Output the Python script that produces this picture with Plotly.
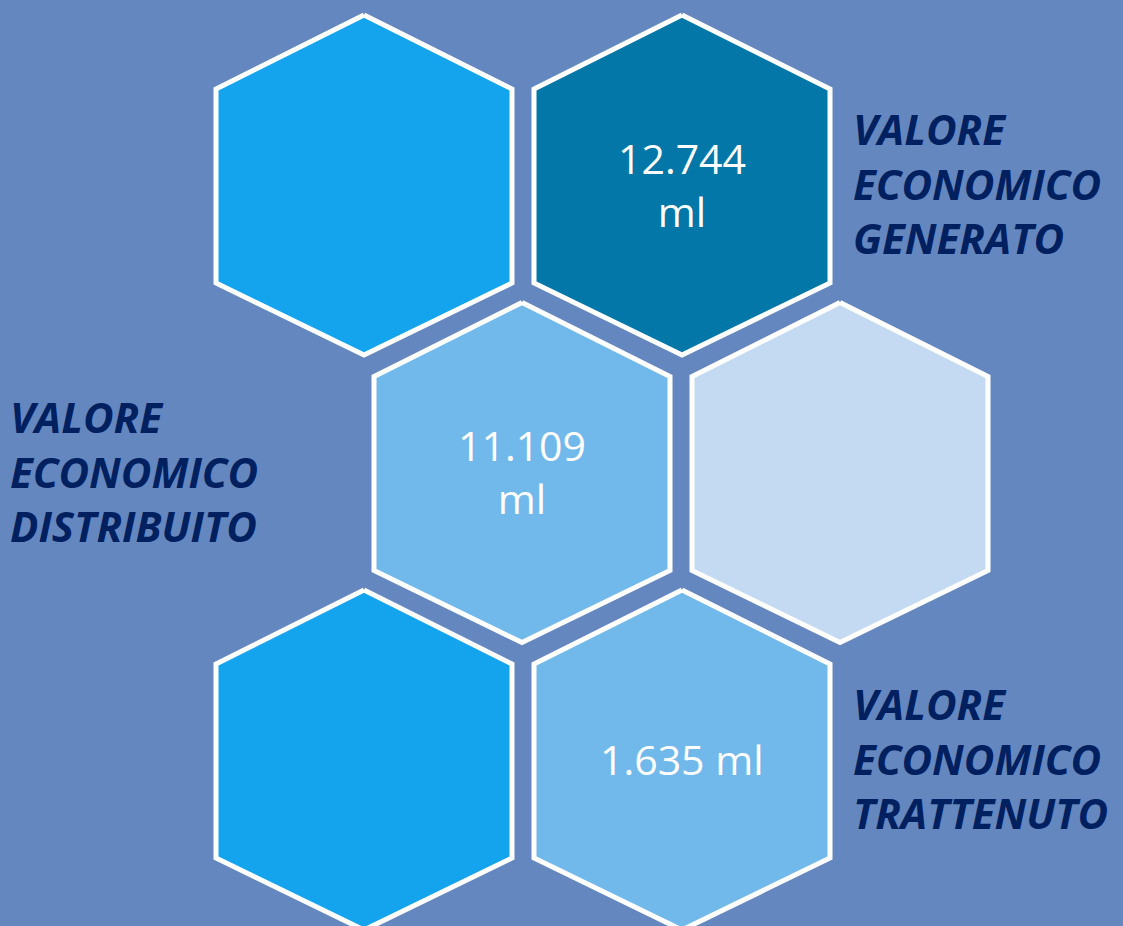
import plotly.graph_objects as go

# hexagon grid: row / column of each cell, value text inside it
hex_rows = [0, 0, 1, 1, 2, 2]
hex_cols = [0, 1, 0, 1, 0, 1]
hex_values = ["", "12.744<br>ml", "11.109<br>ml", "", "", "1.635 ml"]
hex_colors = ["#14A4EE", "#0277A8", "#72B9EB", "#C4DAF2", "#14A4EE", "#72B9EB"]

# side captions, one per row
label_rows = [0, 1, 2]
label_texts = [
    "VALORE<br>ECONOMICO<br>GENERATO",
    "VALORE<br>ECONOMICO<br>DISTRIBUITO",
    "VALORE<br>ECONOMICO<br>TRATTENUTO",
]
label_sides = ["right", "left", "right"]

BG = "#6587BF"
NAVY = "#002060"
W, H = 1123, 926


def hex_center(row, col):
    cx = 364 + col * 318 + (row % 2) * 158
    cy = 185 + row * 287.5
    return cx, cy


def hex_outline(cx, cy):
    # pointy-top hexagon, slightly flattened like the original slide
    xs = [cx, cx + 148, cx + 148, cx, cx - 148, cx - 148, cx]
    ys = [cy - 170, cy - 96, cy + 98, cy + 170, cy + 98, cy - 96, cy - 170]
    return xs, ys


fig = go.Figure()

for r, c, col in zip(hex_rows, hex_cols, hex_colors):
    cx, cy = hex_center(r, c)
    xs, ys = hex_outline(cx, cy)
    fig.add_trace(go.Scatter(
        x=xs, y=ys,
        mode="lines",
        fill="toself",
        fillcolor=col,
        line=dict(color="white", width=5),
        hoverinfo="skip",
        showlegend=False,
    ))

# values inside the hexagons
for r, c, txt in zip(hex_rows, hex_cols, hex_values):
    if not txt:
        continue
    cx, cy = hex_center(r, c)
    fig.add_annotation(
        x=cx, y=cy - 1,
        text=txt, showarrow=False,
        xanchor="center", yanchor="middle", align="center",
        font=dict(family="Open Sans", size=41, color="white"),
    )

# captions beside the hexagons
for r, txt, side in zip(label_rows, label_texts, label_sides):
    cy = 185 + r * 287.5
    x0 = 851 if side == "right" else 8
    fig.add_annotation(
        x=x0, y=cy - 2,
        text=txt, showarrow=False,
        xanchor="left", yanchor="middle", align="left",
        font=dict(family="Open Sans", size=42, color=NAVY,
                  weight=700, style="italic"),
    )

fig.update_xaxes(range=[0, W], visible=False, fixedrange=True)
fig.update_yaxes(range=[H, 0], visible=False, fixedrange=True)
fig.update_layout(
    width=W,
    height=H,
    margin=dict(l=0, r=0, t=0, b=0),
    paper_bgcolor=BG,
    plot_bgcolor=BG,
    showlegend=False,
)

fig.write_html(
    "out.html",
    config={"displayModeBar": False},
    post_script="document.body.style.margin='0';"
                "document.body.style.overflow='hidden';"
                "document.body.style.background='" + BG + "';",
)
